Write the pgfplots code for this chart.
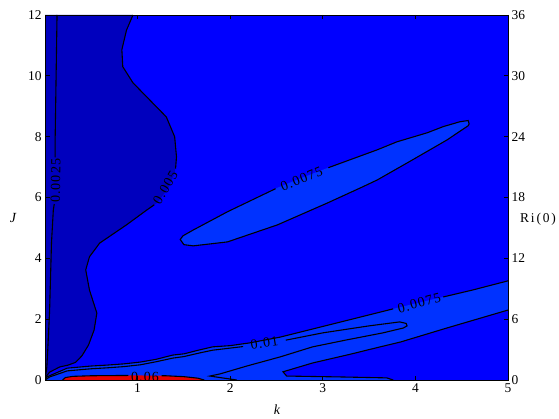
\documentclass[border=0pt]{standalone}
\usepackage{pgfplots}
\pgfplotsset{compat=1.18}
\usepackage{fontspec}
\setmainfont{Liberation Serif}
\definecolor{cdark}{RGB}{0,0,190}
\definecolor{cmid}{RGB}{0,0,255}
\definecolor{clight}{RGB}{0,50,255}
\definecolor{cred}{RGB}{230,0,0}
\tikzset{ctext/.style={font=\fontsize{14}{16}\selectfont\addfontfeature{LetterSpace=8}, inner sep=0pt},
  cline/.style={black, line width=1.1pt}}
\begin{document}
\begin{tikzpicture}
\begin{axis}[
  scale only axis, width=463bp, height=365bp,
  xmin=0, xmax=5, ymin=0, ymax=12,
  xtick={1,2,3,4,5}, ytick={0,2,...,12},
  ytick pos=left,
  tick align=inside, major tick length=4.5bp,
  axis on top,
  tick label style={font=\fontsize{13.5}{15}\selectfont},
  /pgf/number format/assume math mode=true,
  axis line style={line width=0.7pt},
  every tick/.style={black, line width=0.7pt},
]
% background level
\addplot[fill=cmid, draw=none] coordinates {(0,0) (5,0) (5,12) (0,12)} -- cycle;
% dark region (below 0.005)
\addplot[fill=cdark, draw=none] coordinates {
 (0,12) (0.95,12) (0.88,11.5) (0.83,10.86) (0.84,10.3) (0.95,9.77) (1.13,9.21) (1.31,8.65)
 (1.40,8.0) (1.42,7.34) (1.40,6.8) (1.33,6.3) (1.21,5.82) (1.10,5.59) (0.88,5.1) (0.59,4.5)
 (0.48,4.05) (0.44,3.62) (0.48,2.96) (0.56,2.2) (0.53,1.64) (0.47,1.15) (0.40,0.8)
 (0.33,0.58) (0.25,0.49) (0.16,0.43) (0.05,0.26) (0,0.07) (0,0)} -- cycle;
% light band (above 0.0075)
\addplot[fill=clight, draw=none] coordinates {
 (0,0) (0.02,0.1) (0.24,0.39) (0.5,0.46) (0.67,0.49) (0.85,0.53) (1.03,0.59) (1.2,0.68) (1.38,0.82) (1.5,0.86) (1.67,0.99) (1.81,1.09)
 (2.0,1.13) (2.21,1.22) (2.54,1.41) (3.76,2.34) (4.05,2.55) (4.30,2.73) (4.62,2.96) (5.0,3.26) (5,0)} -- cycle;
% lower region back below 0.0075
\addplot[fill=cmid, draw=none] coordinates {
 (3.76,0) (3.69,0.07) (3.2,0.1) (2.61,0.13) (2.57,0.27) (2.89,0.56) (3.3,0.85) (3.62,1.09)
 (3.84,1.25) (4.34,1.71) (5.0,2.30) (5,0)} -- cycle;
% red region (above 0.06)
\addplot[fill=cred, draw=none] coordinates {
 (0.19,0) (0.22,0.08) (0.3,0.12) (0.5,0.14) (1.0,0.15) (1.3,0.14) (1.5,0.11) (1.65,0.06) (1.72,0)} -- cycle;
% ellipse (above 0.0075)
\addplot[fill=clight, draw=none] coordinates {
 (1.46,4.62) (1.49,4.74) (1.60,4.93) (1.97,5.53) (2.51,6.32) (2.75,6.62) (3.05,6.97) (3.59,7.57)
 (3.80,7.83) (4.13,8.13) (4.30,8.33) (4.48,8.49) (4.57,8.53) (4.58,8.42) (4.57,8.36) (4.34,7.89)
 (3.97,7.24) (3.59,6.58) (3.43,6.35) (3.05,5.82) (2.51,5.10) (1.97,4.54) (1.60,4.41) (1.50,4.45)} -- cycle;
% ---- contour lines ----
% 0.0025
\addplot[cline] coordinates {(0,0) (0.02,0.43) (0.03,1.0) (0.05,2.3) (0.07,4.5) (0.09,5.6) (0.10,5.78)};
\addplot[cline] coordinates {(0.11,7.32) (0.11,8) (0.12,10) (0.13,12)};
% 0.005
\addplot[cline] coordinates {(0.95,12) (0.88,11.5) (0.83,10.86) (0.84,10.3) (0.95,9.77) (1.13,9.21) (1.31,8.65)
 (1.40,8.0) (1.42,7.34) (1.41,6.95)};
\addplot[cline] coordinates {(1.18,5.76) (1.10,5.59) (0.88,5.1) (0.59,4.5)
 (0.48,4.05) (0.44,3.62) (0.48,2.96) (0.56,2.2) (0.53,1.64) (0.47,1.15) (0.40,0.8)
 (0.33,0.58) (0.25,0.49) (0.16,0.43) (0.05,0.26) (0,0.07)};
% 0.0075 upper band edge
\addplot[cline] coordinates {(0,0) (0.02,0.1) (0.24,0.39) (0.5,0.46) (0.67,0.49) (0.85,0.53) (1.03,0.59) (1.2,0.68) (1.38,0.82) (1.5,0.86) (1.67,0.99) (1.81,1.09)
 (2.0,1.13) (2.21,1.22) (2.54,1.41) (3.76,2.34)};
\addplot[cline] coordinates {(4.30,2.73) (4.62,2.96) (5.0,3.26)};
% 0.0075 lower band edge
\addplot[cline] coordinates {(3.76,0) (3.69,0.07) (3.2,0.1) (2.61,0.13) (2.57,0.27) (2.89,0.56) (3.3,0.85) (3.62,1.09)
 (3.84,1.25) (4.34,1.71) (5.0,2.30)};
% 0.01 tongue
\addplot[cline] coordinates {(0,0) (0.05,0.1) (0.24,0.3) (0.5,0.37) (0.67,0.4) (0.85,0.44) (1.03,0.5) (1.2,0.6) (1.38,0.72) (1.5,0.77) (1.67,0.89) (1.81,0.98) (2.14,1.1)};
\addplot[cline] coordinates {(2.60,1.31) (3.0,1.55) (3.5,1.78) (3.83,1.91) (3.90,1.86) (3.91,1.78) (3.87,1.71) (3.65,1.55)
 (3.26,1.32) (2.89,1.09) (2.54,0.76) (2.18,0.46) (1.89,0.2) (1.78,0.13) (2.07,0)};
% 0.06
\addplot[cline] coordinates {(0.19,0) (0.22,0.08) (0.3,0.12) (0.5,0.14) (0.90,0.15)};
\addplot[cline] coordinates {(1.26,0.14) (1.3,0.14) (1.5,0.11) (1.65,0.06) (1.72,0)};
% ellipse 0.0075
\addplot[cline] coordinates {(2.49,6.29) (1.97,5.53) (1.60,4.93) (1.49,4.74) (1.46,4.62) (1.50,4.45) (1.60,4.41)
 (1.97,4.54) (2.51,5.10) (3.05,5.82) (3.43,6.35) (3.59,6.58) (3.97,7.24) (4.34,7.89) (4.57,8.36) (4.58,8.42)
 (4.57,8.53) (4.48,8.49) (4.30,8.33) (4.13,8.13) (3.80,7.83) (3.59,7.57) (3.06,6.98)};
% labels
\node[ctext, rotate=89] at (axis cs:0.115,6.55) {0.0025};
\node[ctext, rotate=59] at (axis cs:1.30,6.33) {0.005};
\node[ctext, rotate=22] at (axis cs:2.77,6.62) {0.0075};
\node[ctext, rotate=15] at (axis cs:4.04,2.53) {0.0075};
\node[ctext, rotate=9] at (axis cs:2.37,1.22) {0.01};
\node[ctext] at (axis cs:1.08,0.11) {0.06};
\end{axis}
\begin{axis}[
  scale only axis, width=463bp, height=365bp,
  xmin=0, xmax=5, ymin=0, ymax=36,
  axis x line=none, axis y line*=right,
  ytick={0,6,...,36},
  tick align=inside, major tick length=4.5bp,
  tick label style={font=\fontsize{13.5}{15}\selectfont},
  /pgf/number format/assume math mode=true,
  axis line style={line width=0.7pt},
  every tick/.style={black, line width=0.7pt},
]
\end{axis}
\node[font=\fontsize{14}{16}\selectfont\itshape] at ([xshift=232bp,yshift=-30bp]current axis.south west) {k};
\node[font=\fontsize{14}{16}\selectfont\itshape] at ([xshift=-32bp,yshift=162bp]current axis.south west) {J};
\node[font=\fontsize{13.5}{16}\selectfont] at ([xshift=30bp,yshift=161bp]current axis.south east) {R\kern1.8bp i\kern1.8bp(\kern1.8bp0\kern1.8bp)};
\pgfresetboundingbox
\path[use as bounding box] ([xshift=-45bp,yshift=-38bp]current axis.south west) rectangle ([xshift=51bp,yshift=15bp]current axis.north east);
\end{tikzpicture}
\end{document}
